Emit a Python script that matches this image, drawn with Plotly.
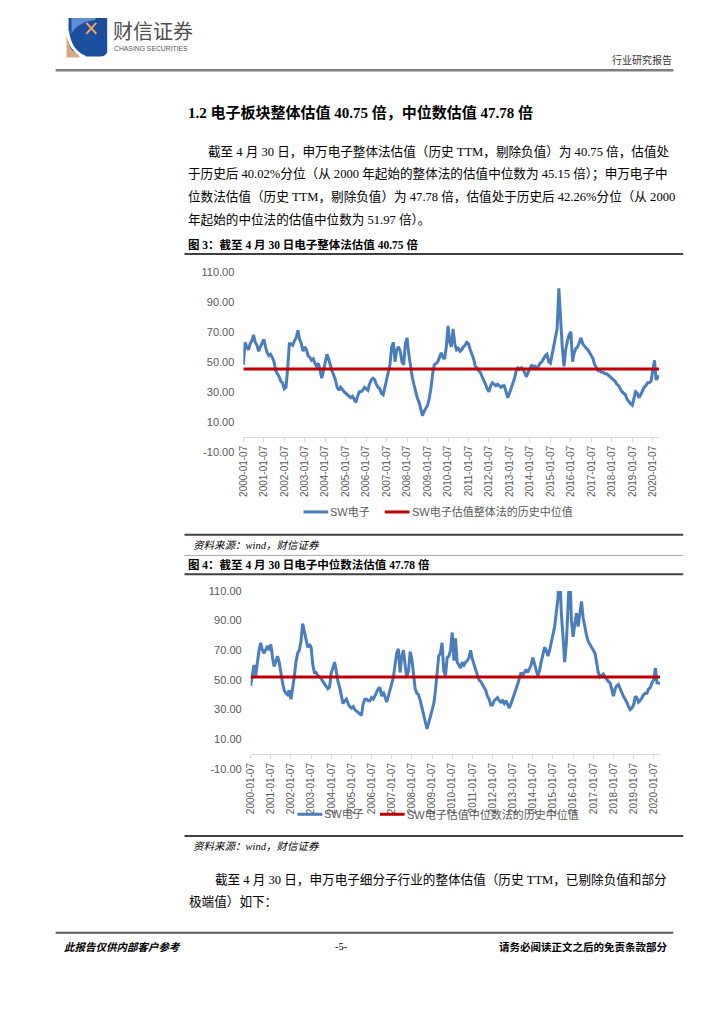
import plotly.graph_objects as go

# ---------------- data ----------------
years = list(range(2000, 2021))
tick_vals = [f"{y}-01-07" for y in years]
tick_text = [f"{y}-01-07" for y in years]

dates = [f"{2000 + m // 12}-{m % 12 + 1:02d}-07" for m in range(244)]
dates[-1] = "2020-04-30"

# SW电子 整体法 PE (TTM), monthly readings 2000-01 .. 2020-04
sw_whole = [
    48, 63, 60, 58, 62, 64, 68, 63, 61, 57, 60, 63,
    65, 60, 56, 54, 55, 53, 50, 44, 42, 40, 37, 36,
    32, 33, 45, 62, 62, 61, 64, 66, 71, 65, 62, 57,
    60, 58, 54, 53, 51, 52, 49, 47, 49, 44, 39, 44,
    51, 55, 52, 47, 44, 41, 38, 33, 31, 33, 31, 30,
    29, 28, 27, 26, 27, 25, 23, 27, 30, 30, 31, 33,
    32, 31, 35, 38, 39, 38, 35, 33, 32, 29, 28, 33,
    38, 43, 48, 60, 63, 50, 58, 60, 57, 50, 48, 62,
    66, 55, 47, 40, 35, 30, 26, 23, 18, 14, 17, 19,
    21, 26, 32, 42, 48, 49, 50, 53, 56, 53, 52, 60,
    74, 63, 60, 72, 62, 58, 59, 57, 58, 60, 61, 63,
    62, 58, 55, 52, 47, 46, 44, 43, 40, 38, 35, 32,
    30, 34, 36, 35, 34, 35, 34, 33, 34, 34, 30, 26,
    29, 32, 35, 39, 44, 46, 45, 46, 45, 43, 40, 43,
    46, 48, 46, 47, 46, 47, 49, 50, 52, 54, 55, 50,
    49, 55, 61, 66, 72, 99, 75, 60, 47, 58, 64, 68,
    70, 50, 56, 59, 60, 63, 66, 62, 60, 59, 58, 56,
    54, 52, 48, 46, 44, 44, 43, 43, 42, 42, 41, 40,
    39, 38, 37, 35, 34, 32, 30, 29, 28, 25, 23, 22,
    21, 26, 30, 29, 26, 28, 31, 33, 34, 36, 36, 37,
    44, 51, 38, 40.75,
]

# SW电子 中位数法 PE (TTM), monthly readings 2000-01 .. 2020-04
sw_median = [
    46, 55, 60, 53, 62, 70, 75, 70, 68, 70, 73, 70,
    74, 65, 59, 62, 66, 62, 54, 48, 43, 41, 40, 43,
    37, 44, 52, 62, 68, 70, 76, 88, 82, 78, 72, 74,
    72, 60, 55, 55, 53, 52, 51, 49, 47, 46, 44, 45,
    55, 58, 62, 56, 49, 45, 40, 34, 36, 37, 34, 32,
    31, 32, 30, 29, 28, 27, 26, 34, 37, 37, 36, 36,
    38, 37, 39, 41, 44, 45, 39, 42, 38, 35, 39, 43,
    48, 52, 60, 68, 71, 55, 66, 70, 60, 52, 56, 69,
    64, 52, 44, 41, 40, 36, 31, 26, 21, 17, 21, 25,
    30, 34, 42, 54, 66, 68, 75, 56, 53, 65, 66, 70,
    82, 63, 78, 62, 60, 58, 62, 60, 62, 63, 65, 70,
    64, 60, 57, 53, 50, 49, 47, 45, 43, 39, 37, 33,
    33, 36, 37, 38, 36, 35, 36, 34, 36, 34, 31, 34,
    37, 40, 44, 47, 51, 55, 53, 55, 57, 55, 58, 60,
    65, 60, 57, 53, 56, 62, 66, 72, 70, 66, 70, 75,
    80, 86, 95, 105, 125, 95, 80, 62, 75, 95, 125, 90,
    79, 88, 95, 86, 96, 103, 92, 85, 80, 76, 74, 72,
    70, 68, 62, 55, 52, 53, 54, 52, 50, 49, 48, 44,
    39, 44, 46, 47, 44, 42, 39, 37, 35, 32, 30, 31,
    33, 39, 38, 35, 36, 38, 40, 41, 41, 44, 45, 48,
    50, 58, 48, 47.78,
]

median_whole = 45.15
median_median = 51.97

y_ticks = [-10, 10, 30, 50, 70, 90, 110]

legend1 = ["SW电子", "SW电子估值整体法的历史中位值"]
legend2 = ["SW电子", "SW电子估值中位数法的历史中位值"]

# ---------------- styling ----------------
OFF = 8                      # default body margin of the html page
W, H = 700, 1000             # keep the page smaller than the window (no scrollbars)
BLUE = "#4A7EBB"
RED = "#C00000"
GRAY_TXT = "#595959"
SERIF = "Liberation Serif, Noto Sans CJK SC"
SANS = "Liberation Sans, Noto Sans CJK SC"


def px(x):
    return (x - OFF) / W


def py(y):
    return 1 - (y - OFF) / H


fig = go.Figure()

# chart 1
fig.add_trace(go.Scatter(x=dates, y=sw_whole, mode="lines", xaxis="x", yaxis="y",
                         line=dict(color=BLUE, width=3), showlegend=False, hoverinfo="skip"))
fig.add_trace(go.Scatter(x=dates, y=[median_whole] * len(dates), mode="lines", xaxis="x", yaxis="y",
                         line=dict(color=RED, width=3), showlegend=False, hoverinfo="skip"))
# chart 2
fig.add_trace(go.Scatter(x=dates, y=sw_median, mode="lines", xaxis="x2", yaxis="y2",
                         line=dict(color=BLUE, width=3), showlegend=False, hoverinfo="skip"))
fig.add_trace(go.Scatter(x=dates, y=[median_median] * len(dates), mode="lines", xaxis="x2", yaxis="y2",
                         line=dict(color=RED, width=3), showlegend=False, hoverinfo="skip"))
# page overlay (pixel coordinates)
fig.add_trace(go.Scatter(x=[], y=[], xaxis="x3", yaxis="y3", showlegend=False))


def xax(x0, x1, y0px):
    return dict(domain=[px(x0), px(x1)], anchor="free", position=py(y0px), type="date",
                range=["2000-01-07", "2020-04-30"], tickmode="array", tickvals=tick_vals,
                ticktext=tick_text, tickangle=-90, tickfont=dict(family=SANS, size=10, color=GRAY_TXT),
                showline=True, linecolor="#D9D9D9", linewidth=1, ticks="outside", ticklen=4,
                tickcolor="#D9D9D9", showgrid=False, zeroline=False, fixedrange=True)


def yax(top, bottom, xname):
    return dict(domain=[py(bottom), py(top)], anchor=xname, range=[-10, 110], tickmode="array",
                tickvals=y_ticks, ticktext=[f"{v:.2f}" for v in y_ticks],
                tickfont=dict(family=SANS, size=11, color=GRAY_TXT), showgrid=False,
                zeroline=False, showline=False, ticks="", ticklabelstandoff=8, fixedrange=True)


fig.update_layout(
    width=W, height=H, autosize=False,
    margin=dict(l=0, r=0, t=0, b=0, pad=0),
    paper_bgcolor="white", plot_bgcolor="rgba(0,0,0,0)",
    xaxis=xax(239.3, 658.7, 435.9),
    yaxis=yax(269, 451, "x"),
    xaxis2=xax(246.7, 659.6, 757),
    yaxis2=yax(592, 772, "x2"),
    xaxis3=dict(domain=[0, 1], range=[OFF, OFF + W], visible=False, anchor="y3", fixedrange=True),
    yaxis3=dict(domain=[0, 1], range=[OFF + H, OFF], visible=False, anchor="x3", fixedrange=True),
)


def txt(x, y, s, size, color="#000000", family=SERIF, xanchor="left"):
    fig.add_annotation(x=x, y=y, xref="x3", yref="y3", text=s, showarrow=False,
                       xanchor=xanchor, yanchor="middle", borderpad=0,
                       font=dict(family=family, size=size, color=color))


def hline(x0, x1, y, color, width):
    fig.add_shape(type="line", x0=x0, x1=x1, y0=y, y1=y, xref="x3", yref="y3",
                  line=dict(color=color, width=width), layer="above")


def path(p, fill, line_color=None, width=0):
    fig.add_shape(type="path", path=p, xref="x3", yref="y3", fillcolor=fill,
                  line=dict(color=line_color or fill, width=width), layer="above")


# ---------------- header ----------------
path("M 61 30 L 74 30 L 74 52 L 61 52 Z", "#D9A783")
path("M 63 12 L 102 12 L 102 47 Q 100 51 95 51 L 80 51 Q 64 49 63 34 Z", "#1C4E9E")
path("M 66 12 L 90 12 L 90 14 Q 72 16 66 28 Z", "#5C8FD6")
fig.add_shape(type="path", path="M 62 25 Q 64 45 80 52", xref="x3", yref="y3",
              line=dict(color="white", width=3), layer="above")
fig.add_shape(type="line", x0=81, y0=17, x1=91, y1=28, xref="x3", yref="y3",
              line=dict(color="#F0A860", width=2), layer="above")
fig.add_shape(type="line", x0=91, y0=17, x1=81, y1=28, xref="x3", yref="y3",
              line=dict(color="#F0A860", width=2), layer="above")
txt(107, 25, "财信证券", 20, "#4D4D4D", "Noto Sans CJK SC")
txt(108, 43, "CHASING SECURITIES", 6.8, "#555555", "Liberation Sans")
txt(673, 55, "行业研究报告", 10, "#333333", SERIF, "right")
hline(50, 673, 65, "#7F7F7F", 2.5)

# ---------------- body text ----------------
txt(182, 108, "<b>1.2 电子板块整体估值 40.75 倍，中位数估值 47.78 倍</b>", 15)
txt(203, 147, "截至 4 月 30 日，申万电子整体法估值（历史 TTM，剔除负值）为 40.75 倍，估值处", 12.6)
txt(182, 170, "于历史后 40.02%分位（从 2000 年起始的整体法的估值中位数为 45.15 倍）；申万电子中", 12.6)
txt(182, 193, "位数法估值（历史 TTM，剔除负值）为 47.78 倍，估值处于历史后 42.26%分位（从 2000", 12.6)
txt(182, 216, "年起始的中位法的估值中位数为 51.97 倍）。", 12.6)

txt(182, 241, "<b>图 3：截至 4 月 30 日电子整体法估值 40.75 倍</b>", 11.5)
hline(180, 683, 251, "#404040", 2)

# legend chart 1
hline(300, 325, 512, BLUE, 3)
txt(326, 512, legend1[0], 11, GRAY_TXT, SANS)
hline(382, 407, 512, RED, 3)
txt(408, 512, legend1[1], 11, GRAY_TXT, SANS)

hline(180, 683, 535, "#404040", 2)
txt(188, 546, "<i>资料来源：wind，财信证券</i>", 10.5)
hline(180, 683, 556, "#A6A6A6", 1)
txt(182, 565, "<b>图 4：截至 4 月 30 日电子中位数法估值 47.78 倍</b>", 11.5)
hline(180, 683, 575, "#404040", 2)

# legend chart 2
hline(294, 319, 818, BLUE, 3)
txt(320, 818, legend2[0], 11, GRAY_TXT, SANS)
hline(377, 402, 818, RED, 3)
txt(403, 818, legend2[1], 11, GRAY_TXT, SANS)

hline(180, 683, 840, "#404040", 2)
txt(188, 851, "<i>资料来源：wind，财信证券</i>", 10.5)

txt(210, 884, "截至 4 月 30 日，申万电子细分子行业的整体估值（历史 TTM，已剔除负值和部分", 12.6)
txt(183, 906, "极端值）如下：", 12.6)

# ---------------- footer ----------------
hline(50, 673, 938, "#595959", 2)
txt(57, 952, "<b><i>此报告仅供内部客户参考</i></b>", 10.5)
txt(338, 952, "-5-", 10.5, "#000000", SERIF, "center")
txt(668, 952, "<b>请务必阅读正文之后的免责条款部分</b>", 10.5, "#000000", SERIF, "right")

fig.write_html("out.html")
